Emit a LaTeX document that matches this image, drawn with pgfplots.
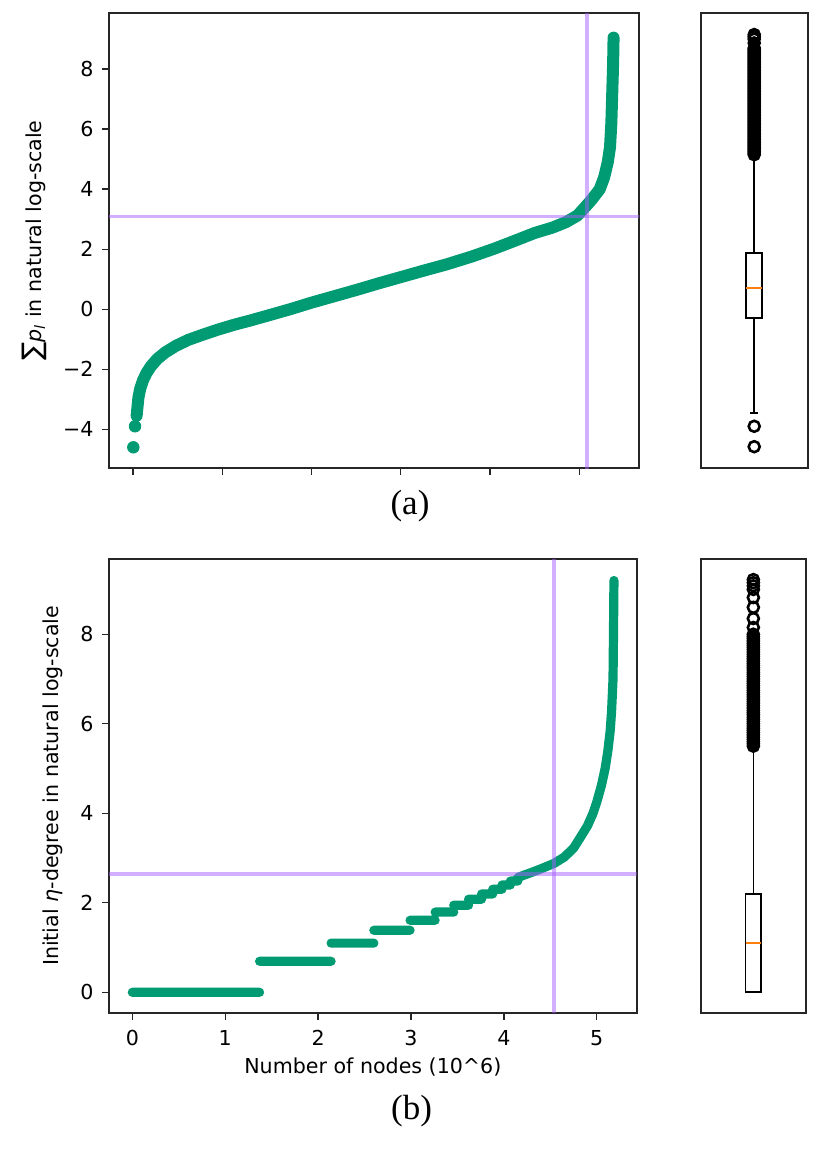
\documentclass[border=0pt]{standalone}
\usepackage{fontspec}
\setmainfont{DejaVu Sans}
\newfontfamily\capfont{Liberation Serif}
\usepackage{pgfplots}
\pgfplotsset{compat=1.18}
\usepgfplotslibrary{statistics}

\definecolor{dotgreen}{HTML}{009B72}
\definecolor{lav}{RGB}{165,95,255}
\definecolor{mplorange}{HTML}{FF7F0E}
\definecolor{frame}{HTML}{262626}
\newcommand\tickfont{\fontsize{10.3}{12}\selectfont}

% sorted sum of p_l (log) -- panel (a)
\pgfplotstableread{
x y
0.04 -3.55
0.05 -3.25
0.06 -2.95
0.08 -2.65
0.11 -2.38
0.15 -2.13
0.20 -1.90
0.27 -1.66
0.36 -1.44
0.48 -1.22
0.62 -1.02
0.78 -0.85
0.95 -0.68
1.13 -0.52
1.32 -0.37
1.50 -0.22
1.76 0.00
2.00 0.22
2.25 0.43
2.50 0.64
2.75 0.86
3.00 1.07
3.25 1.28
3.52 1.50
3.80 1.76
4.05 2.02
4.26 2.26
4.50 2.54
4.70 2.72
4.85 2.90
4.98 3.12
5.065 3.40
5.14 3.65
5.23 4.00
5.28 4.40
5.32 4.90
5.345 5.40
5.36 6.20
5.37 7.20
5.38 8.20
5.385 9.05
}\sumcurve

\pgfplotstableread{
x y
0.003 -4.60
0.022 -3.90
}\sumlow

% sorted initial eta-degree (log) -- panel (b)
\pgfplotstableread{
x y
0 0
1.37 0
nan nan
1.37 0.6931
2.14 0.6931
nan nan
2.14 1.0986
2.60 1.0986
nan nan
2.60 1.3863
2.99 1.3863
nan nan
2.99 1.6094
3.26 1.6094
nan nan
3.26 1.7918
3.46 1.7918
nan nan
3.46 1.9459
3.62 1.9459
nan nan
3.62 2.0794
3.76 2.0794
nan nan
3.76 2.1972
3.88 2.1972
nan nan
3.88 2.3026
3.98 2.3026
nan nan
3.98 2.3979
4.07 2.3979
nan nan
4.07 2.4849
4.15 2.4849
nan nan
4.15 2.565
4.22 2.62
4.30 2.68
4.40 2.76
4.54 2.88
4.65 3.02
4.75 3.22
4.82 3.45
4.90 3.72
4.96 4.00
5.00 4.25
5.05 4.62
5.09 5.00
5.12 5.40
5.145 5.85
5.16 6.30
5.175 7.00
5.18 8.00
5.185 9.20
}\degcurve

% box plot outliers
\pgfplotstableread{
x y
1 -4.58
1 -3.90
1 5.15
1 5.20
1 5.25
1 5.30
1 5.35
1 5.40
1 5.45
1 5.50
1 5.55
1 5.60
1 5.65
1 5.70
1 5.75
1 5.80
1 5.85
1 5.90
1 5.95
1 6.00
1 6.05
1 6.10
1 6.15
1 6.20
1 6.25
1 6.30
1 6.35
1 6.40
1 6.45
1 6.50
1 6.55
1 6.60
1 6.65
1 6.70
1 6.75
1 6.80
1 6.85
1 6.90
1 6.95
1 7.00
1 7.05
1 7.10
1 7.15
1 7.20
1 7.25
1 7.30
1 7.35
1 7.40
1 7.45
1 7.50
1 7.55
1 7.60
1 7.65
1 7.70
1 7.75
1 7.80
1 7.85
1 7.90
1 7.95
1 8.00
1 8.05
1 8.10
1 8.15
1 8.20
1 8.25
1 8.30
1 8.35
1 8.40
1 8.45
1 8.50
1 8.55
1 8.60
1 8.65
1 8.70
1 8.87
1 9.00
1 9.08
1 9.15
}\fliersA

\pgfplotstableread{
x y
1 5.50
1 5.55
1 5.60
1 5.65
1 5.70
1 5.75
1 5.80
1 5.85
1 5.90
1 5.95
1 6.00
1 6.05
1 6.10
1 6.15
1 6.20
1 6.25
1 6.30
1 6.35
1 6.40
1 6.45
1 6.50
1 6.55
1 6.60
1 6.65
1 6.70
1 6.75
1 6.80
1 6.85
1 6.90
1 6.95
1 7.00
1 7.05
1 7.10
1 7.15
1 7.20
1 7.25
1 7.30
1 7.35
1 7.40
1 7.45
1 7.50
1 7.55
1 7.60
1 7.65
1 7.70
1 7.75
1 7.80
1 7.85
1 7.90
1 7.95
1 8.00
1 8.15
1 8.35
1 8.60
1 8.82
1 9.00
1 9.08
1 9.15
1 9.22
}\fliersB

\pgfplotsset{
  mainax/.style={
    scale only axis,
    axis line style={draw=frame, line width=0.8pt},
    every tick/.style={draw=frame, line width=0.7pt},
    tick align=outside,
    major tick length=3.4pt,
    xtick pos=bottom, ytick pos=left,
    ticklabel style={font=\tickfont, inner sep=0pt},
    xticklabel style={anchor=north},
    yticklabel style={anchor=east},
    xticklabel shift=5.2pt,
    yticklabel shift=4.1pt,
    label style={font=\tickfont},
    ylabel style={anchor=center},
    ytick={-4,-2,...,8},
    yticklabels={−4,−2,0,2,4,6,8},
  },
  boxax/.style={
    scale only axis,
    axis line style={draw=frame, line width=0.8pt},
    xmin=0.5, xmax=1.5,
    xtick=\empty, ytick=\empty,
  },
  scat/.style={draw=dotgreen, line cap=round, line join=round, unbounded coords=jump},
  guide/.style={draw=lav, draw opacity=0.5, line width=1.85pt},
  flier/.style={only marks, mark=o, mark size=2.75pt,
    mark options={draw=black, line width=1.3pt}},
}

\begin{document}
\begin{tikzpicture}
\path[use as bounding box] (0pt,0pt) rectangle (409pt,-578pt);

% ---------- (a) ----------
\begin{axis}[mainax,
  at={(54.5pt,-234pt)}, anchor=south west,
  width=265pt, height=227.5pt,
  xmin=-0.2695, xmax=5.67, ymin=-5.29, ymax=9.87,
  xtick={0,1,2,3,4,5}, xticklabels={{},{},{},{},{},{}},
  ylabel={{\fontsize{13.5}{14}\selectfont ∑}\textit{p}\textsubscript{\textit{l}} in natural log-scale},
  ylabel style={at={(axis description cs:-0.1415,0.5)}},
]
\addplot[scat, line width=6pt] table {\sumcurve};
\addplot[only marks, mark=*, mark size=2.9pt, dotgreen] table {\sumlow};
\addplot[guide] coordinates {(-1,3.09) (7,3.09)};
\addplot[guide] coordinates {(5.09,-7) (5.09,11)};
\end{axis}

\begin{axis}[boxax,
  at={(350.35pt,-234pt)}, anchor=south west,
  width=53.5pt, height=227.5pt,
  ymin=-5.29, ymax=9.87,
]
\addplot[draw=black, line width=0.8pt,
  boxplot prepared={draw position=1, draw direction=y,
    lower whisker=-3.46, lower quartile=-0.29, median=0.71,
    upper quartile=1.88, upper whisker=5.14,
    box extend=0.15, whisker extend=0.075},
  boxplot/every median/.style={draw=mplorange, line width=1pt},
] coordinates {};
\addplot[flier] table {\fliersA};
\end{axis}

% ---------- (b) ----------
\begin{axis}[mainax,
  at={(54.5pt,-506.35pt)}, anchor=south west,
  width=263.85pt, height=226.85pt,
  xmin=-0.251, xmax=5.43, ymin=-0.456, ymax=9.68,
  xtick={0,1,2,3,4,5}, xticklabels={0,1,2,3,4,5},
  ytick={0,2,4,6,8}, yticklabels={0,2,4,6,8},
  xlabel={Number of nodes (10\textasciicircum 6)},
  xlabel style={at={(axis description cs:0.5,-0.1208)}, anchor=center},
  ylabel={Initial \textit{η}-degree in natural log-scale},
  ylabel style={at={(axis description cs:-0.107,0.5)}},
]
\addplot[scat, line width=4.6pt] table {\degcurve};
\addplot[guide] coordinates {(-1,2.64) (7,2.64)};
\addplot[guide] coordinates {(4.54,-2) (4.54,11)};
\end{axis}

\begin{axis}[boxax,
  at={(350.5pt,-506.35pt)}, anchor=south west,
  width=52.35pt, height=226.85pt,
  ymin=-0.456, ymax=9.68,
]
\addplot[draw=black, line width=0.8pt,
  boxplot prepared={draw position=1, draw direction=y,
    lower whisker=0, lower quartile=0, median=1.10,
    upper quartile=2.20, upper whisker=5.45,
    box extend=0.15, whisker extend=0.075},
  boxplot/every median/.style={draw=mplorange, line width=1pt},
] coordinates {};
\addplot[flier] table {\fliersB};
\end{axis}

% captions
\node[font=\capfont\fontsize{17.5}{20}\selectfont] at (205pt,-253pt) {(a)};
\node[font=\capfont\fontsize{17.5}{20}\selectfont] at (205.8pt,-555.5pt) {(b)};
\end{tikzpicture}
\end{document}
